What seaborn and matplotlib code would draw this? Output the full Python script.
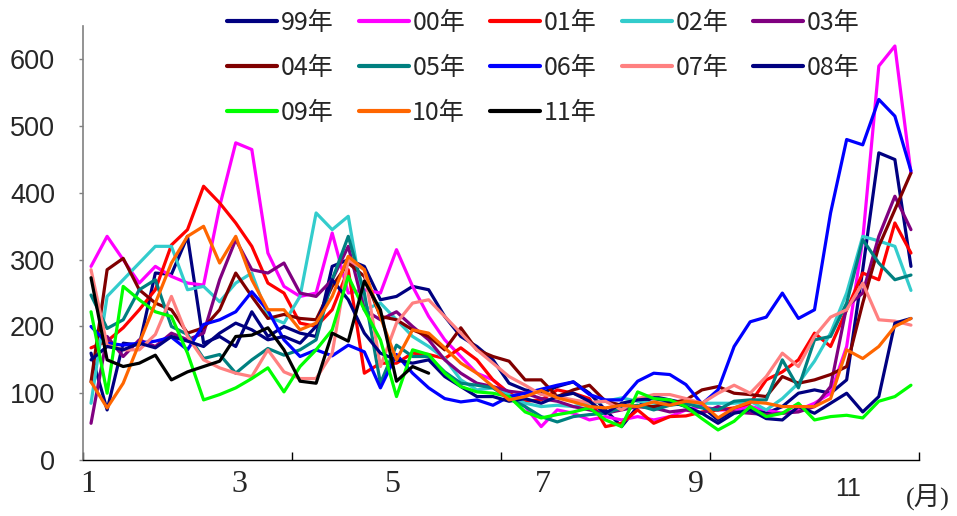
import numpy as np
import pandas as pd
import seaborn as sns
from matplotlib import pyplot as plt

# weekly values (week 1..52)
years = ["99年", "00年", "01年", "02年", "03年", "04年", "05年",
         "06年", "07年", "08年", "09年", "10年", "11年"]
colors = ["#000080", "#FF00FF", "#FF0000", "#33CCCC", "#800080", "#800000", "#008080",
          "#0000FF", "#FF8080", "#000080", "#00FF00", "#FF6600", "#000000"]

y99 = [160, 75, 175, 172, 280, 278, 335, 175, 185, 170, 222, 185, 200, 190, 185, 290,
       300, 290, 240, 245, 260, 255, 215, 185, 170, 150, 115, 105, 100, 110, 117, 100,
       75, 50, 80, 95, 90, 85, 80, 60, 75, 80, 70, 80, 100, 105, 100, 120, 285, 460, 450, 290]
y00 = [290, 335, 300, 265, 290, 275, 265, 262, 380, 475, 465, 310, 260, 245, 250, 340,
       250, 255, 250, 315, 260, 215, 180, 155, 130, 120, 100, 80, 50, 75, 70, 60,
       65, 60, 65, 60, 65, 75, 80, 75, 75, 80, 75, 70, 75, 85, 100, 170, 330, 590, 620, 430]
y01 = [168, 178, 198, 225, 255, 322, 345, 410, 385, 355, 320, 265, 250, 205, 200, 225,
       285, 130, 145, 145, 160, 158, 152, 168, 150, 120, 100, 88, 90, 105, 100, 92,
       50, 55, 75, 55, 65, 66, 72, 75, 78, 85, 120, 132, 150, 190, 170, 225, 280, 270, 355, 310]
y02 = [85, 245, 270, 295, 320, 320, 255, 260, 237, 265, 280, 215, 205, 245, 370, 345,
       365, 225, 235, 210, 185, 170, 152, 120, 105, 108, 98, 85, 80, 82, 80, 85,
       88, 93, 88, 85, 85, 82, 85, 85, 85, 88, 75, 92, 115, 148, 190, 250, 335, 328, 320, 254]
y03 = [55, 185, 155, 180, 170, 190, 180, 190, 270, 330, 285, 280, 295, 250, 245, 270,
       320, 225, 210, 222, 200, 180, 150, 130, 115, 110, 103, 100, 92, 88, 80, 75,
       70, 75, 80, 78, 72, 75, 70, 80, 72, 70, 68, 70, 72, 80, 110, 230, 250, 335, 395, 345]
y04 = [117, 285, 302, 255, 235, 225, 190, 198, 225, 280, 245, 212, 218, 212, 210, 260,
       295, 275, 215, 210, 195, 185, 165, 198, 165, 155, 148, 120, 120, 95, 105, 112,
       88, 82, 80, 80, 85, 90, 105, 110, 100, 98, 95, 125, 115, 120, 128, 140, 235, 320, 375, 430]
y05 = [247, 197, 210, 255, 270, 200, 188, 152, 158, 130, 150, 167, 157, 165, 180, 270,
       335, 250, 115, 172, 155, 155, 132, 115, 112, 108, 92, 80, 65, 57, 65, 68,
       70, 78, 82, 75, 82, 85, 78, 75, 88, 90, 90, 150, 108, 180, 185, 235, 330, 295, 270, 277]
y06 = [200, 175, 172, 175, 178, 184, 165, 203, 210, 222, 252, 224, 180, 155, 165, 156,
       172, 162, 108, 158, 130, 108, 92, 87, 90, 82, 95, 100, 106, 112, 117, 98,
       90, 90, 118, 130, 128, 113, 84, 105, 170, 207, 214, 250, 212, 225, 370, 480, 472, 540, 515, 433]
y07 = [285, 172, 165, 165, 188, 245, 185, 150, 138, 130, 125, 165, 132, 122, 122, 160,
       300, 285, 140, 205, 235, 240, 215, 190, 165, 145, 125, 112, 98, 95, 90, 86,
       88, 75, 92, 98, 98, 92, 85, 100, 112, 100, 125, 160, 140, 185, 214, 225, 265, 210, 208, 202]
y08 = [150, 170, 165, 175, 168, 185, 178, 170, 190, 205, 195, 180, 185, 175, 200, 270,
       240, 190, 160, 150, 145, 150, 125, 110, 95, 95, 88, 92, 85, 95, 100, 88,
       70, 85, 90, 92, 88, 80, 70, 55, 70, 75, 62, 60, 80, 70, 85, 100, 72, 95, 205, 212]
y09 = [222, 100, 260, 240, 222, 215, 160, 90, 98, 108, 122, 138, 102, 140, 165, 195,
       275, 225, 180, 95, 165, 158, 130, 110, 102, 100, 95, 72, 63, 68, 72, 78,
       60, 50, 102, 92, 90, 80, 62, 45, 58, 80, 65, 70, 85, 60, 65, 67, 63, 88, 95, 112]
y10 = [117, 78, 115, 175, 235, 295, 335, 350, 295, 335, 270, 225, 225, 195, 205, 245,
       305, 285, 214, 150, 195, 190, 168, 145, 130, 110, 90, 95, 104, 93, 87, 80,
       78, 82, 80, 87, 82, 88, 85, 63, 78, 87, 85, 80, 80, 80, 92, 165, 152, 170, 200, 212]
y11 = [273, 150, 140, 145, 157, 120, 132, 140, 148, 185, 187, 198, 165, 118, 115, 190,
       178, 268, 225, 118, 140, 130]

series = [y99, y00, y01, y02, y03, y04, y05, y06, y07, y08, y09, y10, y11]
month_labels = ["1", "3", "5", "7", "9"]
month_pos = [0.31, 9.76, 19.22, 28.61, 38.13]

rows = []
for name, vals in zip(years, series):
    for i, v in enumerate(vals):
        rows.append({"week": i + 0.5, "value": v, "year": name})
df = pd.DataFrame(rows)

sns.set_style("white")
plt.rcParams["font.family"] = ["Liberation Sans", "Noto Sans CJK JP"]

fig = plt.figure(figsize=(9.57, 5.16), dpi=100)
ax = fig.add_axes([83 / 957, 56 / 516, 836 / 957, 434 / 516])

sns.lineplot(data=df, x="week", y="value", hue="year", hue_order=years,
             palette=dict(zip(years, colors)), estimator=None, sort=False,
             linewidth=2.3, ax=ax)
for line in ax.get_lines():
    line.set_solid_joinstyle("round")
    line.set_solid_capstyle("round")

ax.set_xlim(0, 52)
ax.set_ylim(0, 650)
ax.set_xlabel("")
ax.set_ylabel("")
ax.set_yticks(range(0, 700, 100))
ax.set_xticks([0, 13, 26, 39, 52])
ax.set_xticklabels([])
ax.tick_params(axis="y", direction="out", length=3, width=1, color="#808080",
               labelsize=19.5, pad=17, left=True)
ax.tick_params(axis="x", direction="in", length=6, width=1, color="black", bottom=True)
for s in ["top", "right"]:
    ax.spines[s].set_visible(False)
ax.spines["left"].set_color("#808080")
ax.spines["bottom"].set_color("black")
ax.spines["left"].set_linewidth(1.2)
ax.spines["bottom"].set_linewidth(1)

for lbl, x in zip(month_labels, month_pos):
    ax.annotate(lbl, xy=(x, 0), xycoords=("data", "axes fraction"), xytext=(0, -18),
                textcoords="offset points", ha="center", va="center",
                fontsize=23, family="Liberation Serif")
ax.annotate("11", xy=(47.58, 0), xycoords=("data", "axes fraction"), xytext=(0, -21),
            textcoords="offset points", ha="center", va="center", fontsize=18)
ax.annotate("(月)", xy=(52.56, 0), xycoords=("data", "axes fraction"), xytext=(0, -27),
            textcoords="offset points", ha="center", va="center", fontsize=19,
            family=["Liberation Serif", "Noto Sans CJK JP"])

# legend fills by column, so reorder to read across rows
handles, labels = ax.get_legend_handles_labels()
order = [0, 5, 10, 1, 6, 11, 2, 7, 12, 3, 8, 4, 9]
ax.legend([handles[i] for i in order], [labels[i] for i in order], ncol=5, loc="upper left",
          bbox_to_anchor=(227 / 957, 1 - 10 / 516), bbox_transform=fig.transFigure,
          frameon=False, handlelength=2.0, handletextpad=0.15,
          columnspacing=1.0, labelspacing=0.76, borderpad=0, borderaxespad=0,
          prop={"family": ["Noto Sans CJK JP"], "size": 18})
for h in ax.get_legend().get_lines():
    h.set_linewidth(3)

fig.savefig("out.png", dpi=100)
